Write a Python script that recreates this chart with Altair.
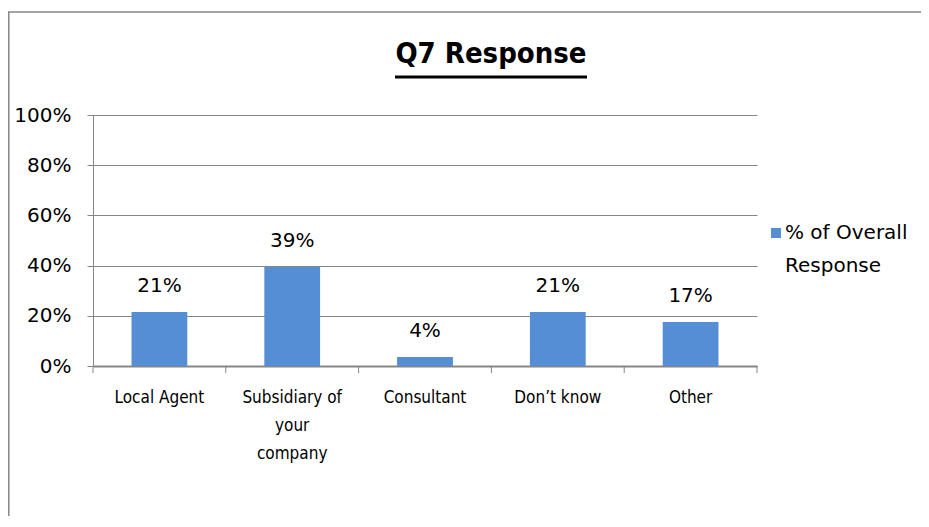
import altair as alt
import pandas as pd

categories = ["Local Agent", "Subsidiary of your company", "Consultant", "Don\u2019t know", "Other"]
values = [0.215, 0.394, 0.036, 0.215, 0.175]
value_labels = ["21%", "39%", "4%", "21%", "17%"]
series_name = "% of Overall Response"
title_text = "Q7 Response"

df = pd.DataFrame({"cat": categories, "val": values, "lab": value_labels, "series": series_name})
series_df = pd.DataFrame({"series": [series_name]})
title_df = pd.DataFrame({"t": [title_text]})

XFONT = "DejaVu Sans Condensed"
NFONT = "DejaVu Sans"
GRAY = "#868686"
BLUE = "#558ED5"

color_scale = alt.Scale(domain=[series_name], range=[BLUE])
x_scale = alt.Scale(domain=categories, paddingInner=0.58, paddingOuter=0.29)

x_axis = alt.Axis(labelAngle=0, labelFontSize=17, labelFont=XFONT, labelColor="#000000",
                  labelExpr="datum.value == 'Subsidiary of your company' ? ['Subsidiary of', 'your', 'company'] : datum.value",
                  labelPadding=23, labelLineHeight=28, ticks=False,
                  domainColor=GRAY, domainWidth=2, labelLimit=200)

bars = alt.Chart(df).mark_bar().encode(
    x=alt.X("cat:N", sort=categories, title=None, scale=x_scale, axis=x_axis),
    y=alt.Y("val:Q", title=None,
            scale=alt.Scale(domain=[0, 1]),
            axis=alt.Axis(format=".0%", values=[0, 0.2, 0.4, 0.6, 0.8, 1.0],
                          labelFontSize=20, labelFont=NFONT, labelColor="#000000",
                          tickSize=6, tickColor=GRAY, domainColor=GRAY, gridColor=GRAY,
                          labelPadding=16)),
    color=alt.Color("series:N", scale=color_scale, legend=None),
)

# category-boundary tick marks below the x axis (Excel style)
xticks = alt.Chart(df).mark_rule(color=GRAY, strokeWidth=1).encode(
    x=alt.X("cat:N", sort=categories, title=None, scale=x_scale, axis=x_axis),
    xOffset=alt.value(94.3),
    y=alt.value(251), y2=alt.value(258),
)
xtick0 = alt.Chart(title_df).mark_rule(color=GRAY, strokeWidth=1).encode(
    x=alt.value(0), y=alt.value(251), y2=alt.value(258)
)

texts = alt.Chart(df).mark_text(baseline="middle", dy=-26, fontSize=20, font=NFONT, color="#000000").encode(
    x=alt.X("cat:N", sort=categories, title=None, scale=x_scale, axis=x_axis),
    y="val:Q",
    text="lab:N",
)

legend_sym = alt.Chart(series_df).mark_square(size=100, opacity=1).encode(
    x=alt.value(683), y=alt.value(118),
    color=alt.Color("series:N", scale=color_scale, legend=None),
)

legend_txt = alt.Chart(series_df).transform_calculate(
    txt="replace(datum.series, ' Response', '\\nResponse')"
).mark_text(font=NFONT, fontSize=20, color="#000000", align="left", baseline="top",
            lineBreak="\n", lineHeight=33).encode(
    x=alt.value(692), y=alt.value(108), text="txt:N"
)

title_mark = alt.Chart(title_df).mark_text(font=XFONT, fontSize=29, fontWeight="bold", color="#000000",
                                           align="center", baseline="alphabetic").encode(
    x=alt.value(398), y=alt.value(-52), text="t:N"
)

underline = alt.Chart(title_df).mark_rule(color="#000000", strokeWidth=3).encode(
    x=alt.value(302), x2=alt.value(494), y=alt.value(-38)
)

frame = alt.Chart(title_df).mark_rect(fill=None, stroke=GRAY, strokeWidth=1.5).encode(
    x=alt.value(-84.2), x2=alt.value(1000), y=alt.value(-103), y2=alt.value(700)
)

chart = alt.layer(frame, bars, xticks, xtick0, texts, legend_sym, legend_txt, title_mark, underline).properties(
    width=664, height=251,
    autosize=alt.AutoSizeParams(type="none"),
    padding={"left": 85, "top": 107, "right": 164, "bottom": 150},
).configure_view(stroke=None).configure_axis(gridWidth=1)

chart.save("out.html", embed_options={"renderer": "svg", "actions": False})
